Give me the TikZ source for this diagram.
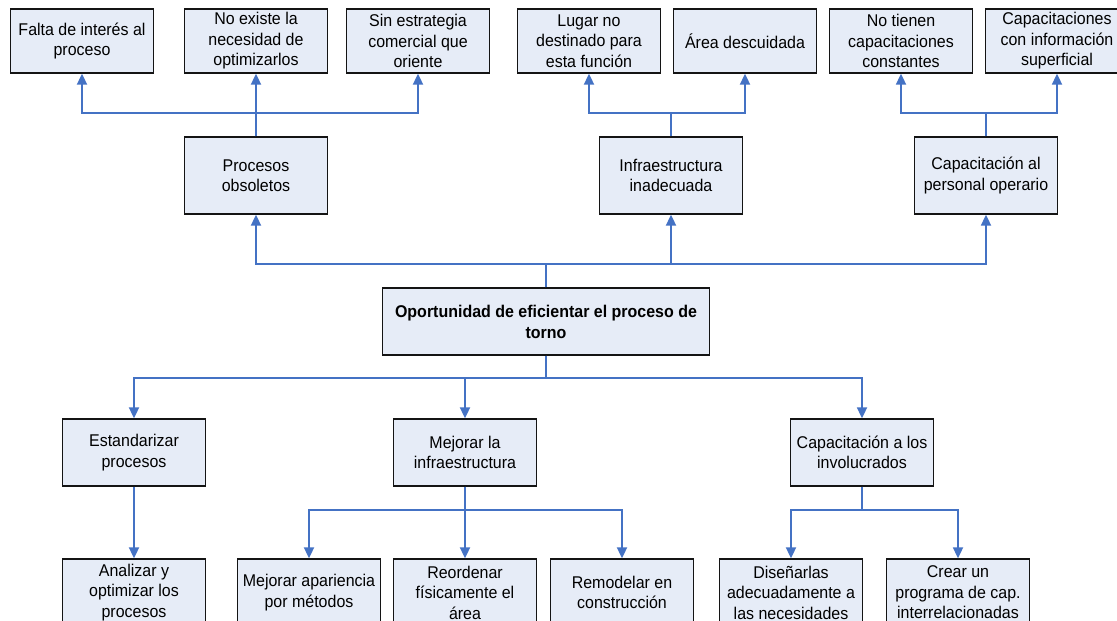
\documentclass[tikz,border=0pt]{standalone}
\usepackage{fontspec}
\setmainfont[FakeStretch=0.94]{Liberation Sans}
\usetikzlibrary{arrows.meta}
\definecolor{boxfill}{RGB}{230,236,247}
\definecolor{connblue}{RGB}{68,114,196}
\definecolor{boxline}{RGB}{20,20,20}
\tikzset{
  box/.style={draw=boxline, line width=1.3pt, fill=boxfill, align=center,
    inner sep=0pt, minimum width=143pt, text=black,
    font=\fontsize{17}{20.5}\selectfont},
  rowone/.style={box, minimum height=64pt},
  rowtwo/.style={box, minimum height=77pt},
  rowthree/.style={box, minimum height=67pt},
  centralbox/.style={box, minimum width=327pt, minimum height=67pt,
    font=\fontsize{17}{21}\selectfont\bfseries},
  conn/.style={draw=connblue, line width=1.8pt},
  arr/.style={conn, -{Triangle[length=11pt,width=10pt]}}
}
\begin{document}
\begin{tikzpicture}[x=1pt,y=-1pt]
\useasboundingbox (0,0) rectangle (1117,621);
\clip (0,0) rectangle (1117,621);
% bar levels
\coordinate (b1) at (0,113);
\coordinate (b2) at (0,264);
\coordinate (b3) at (0,378);
\coordinate (b4) at (0,510);
% top row
\node[rowone] (t1) at (82,41) {Falta de interés al\\proceso};
\node[rowone] (t2) at (256,41) {No existe la\\necesidad de\\optimizarlos};
\node[rowone] (t3) at (418,41) {Sin estrategia\\comercial que\\oriente};
\node[rowone] (t4) at (589,41) {Lugar no\\destinado para\\esta función};
\node[rowone] (t5) at (745,41) {Área descuidada};
\node[rowone] (t6) at (901,41) {No tienen\\capacitaciones\\constantes};
\node[rowone] (t7) at (1057,41) {Capacitaciones\\con información\\superficial};
% second row
\node[rowtwo] (p1) at (256,175.5) {Procesos\\obsoletos};
\node[rowtwo] (p2) at (671,175.5) {Infraestructura\\inadecuada};
\node[rowtwo] (p3) at (986,175.5) {Capacitación al\\personal operario};
% central
\node[centralbox] (c) at (546,321.5) {Oportunidad de eficientar el proceso de\\torno};
% third row
\node[rowthree] (s1) at (134,452.5) {Estandarizar\\procesos};
\node[rowthree] (s2) at (465,452.5) {Mejorar la\\infraestructura};
\node[rowthree] (s3) at (862,452.5) {Capacitación a los\\involucrados};
% bottom row
\node[rowthree] (a1) at (134,592.5) {Analizar y\\optimizar los\\procesos};
\node[rowthree] (a2) at (309,592.5) {Mejorar apariencia\\por métodos};
\node[rowthree] (a3) at (465,592.5) {Reordenar\\físicamente el\\área};
\node[rowthree] (a4) at (622,592.5) {Remodelar en\\construcción};
\node[rowthree] (a5) at (791,592.5) {Diseñarlas\\adecuadamente a\\las necesidades};
\node[rowthree] (a6) at (958,592.5) {Crear un\\programa de cap.\\interrelacionadas};
% connectors: second row to top row
\draw[arr] (p1.north) -- (p1.north |- b1) -| (t1.south);
\draw[arr] (p1.north) -- (t2.south);
\draw[arr] (p1.north) -- (p1.north |- b1) -| (t3.south);
\draw[arr] (p2.north) -- (p2.north |- b1) -| (t4.south);
\draw[arr] (p2.north) -- (p2.north |- b1) -| (t5.south);
\draw[arr] (p3.north) -- (p3.north |- b1) -| (t6.south);
\draw[arr] (p3.north) -- (p3.north |- b1) -| (t7.south);
% central to second row
\draw[arr] (c.north) -- (c.north |- b2) -| (p1.south);
\draw[arr] (c.north) -- (c.north |- b2) -| (p2.south);
\draw[arr] (c.north) -- (c.north |- b2) -| (p3.south);
% central to third row
\draw[arr] (c.south) -- (c.south |- b3) -| (s1.north);
\draw[arr] (c.south) -- (c.south |- b3) -| (s2.north);
\draw[arr] (c.south) -- (c.south |- b3) -| (s3.north);
% third row to bottom row
\draw[arr] (s1.south) -- (a1.north);
\draw[arr] (s2.south) -- (s2.south |- b4) -| (a2.north);
\draw[arr] (s2.south) -- (a3.north);
\draw[arr] (s2.south) -- (s2.south |- b4) -| (a4.north);
\draw[arr] (s3.south) -- (s3.south |- b4) -| (a5.north);
\draw[arr] (s3.south) -- (s3.south |- b4) -| (a6.north);
\end{tikzpicture}
\end{document}
